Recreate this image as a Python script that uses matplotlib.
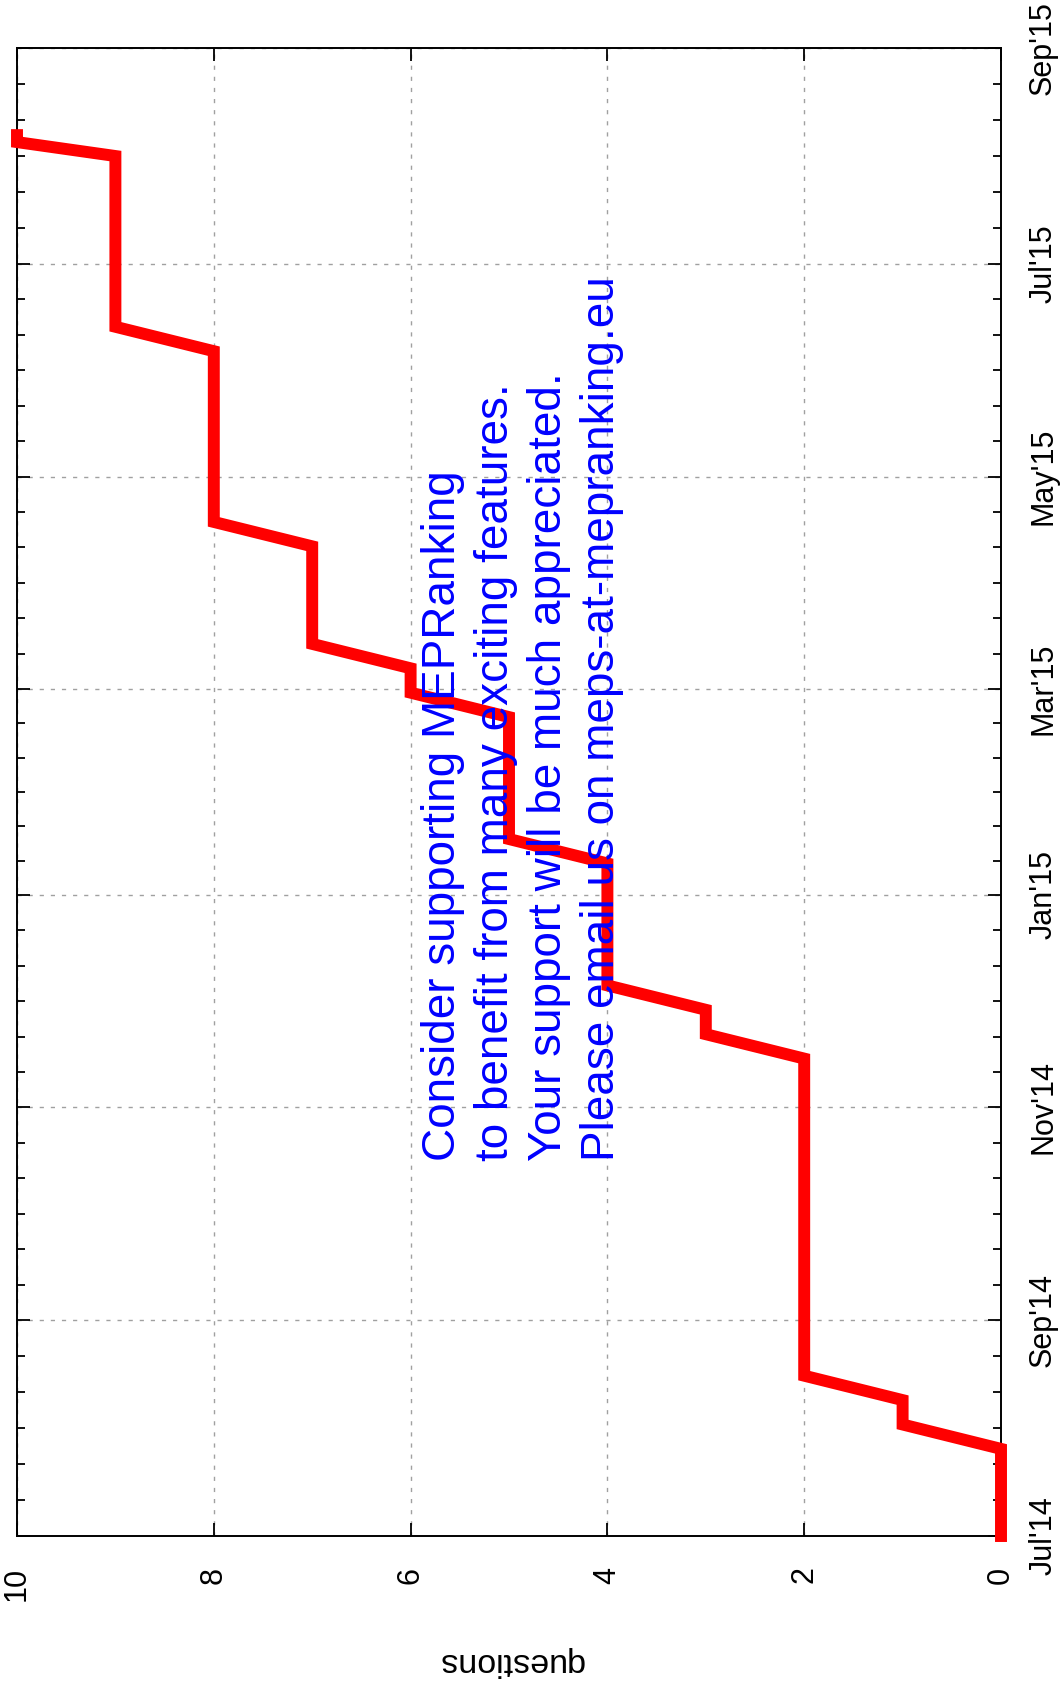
import matplotlib
matplotlib.use('Agg')
import matplotlib.pyplot as plt
import matplotlib.dates as mdates
from datetime import datetime

# cumulative number of questions, one point per data row
dias = ['2014-07-01', '2014-07-26', '2014-08-02', '2014-08-09', '2014-08-16',
        '2014-11-15', '2014-11-22', '2014-11-29', '2014-12-06', '2015-01-10',
        '2015-01-17', '2015-02-21', '2015-02-28', '2015-03-07', '2015-03-14',
        '2015-04-11', '2015-04-18', '2015-06-06', '2015-06-13', '2015-08-01',
        '2015-08-05', '2015-08-07']
perguntas = [0, 0, 1, 1, 2, 2, 3, 3, 4, 4, 5, 5, 6, 6, 7, 7, 8, 8, 9, 9, 10, 10]

meses = ['2014-07-01', '2014-09-01', '2014-11-01', '2015-01-01',
         '2015-03-01', '2015-05-01', '2015-07-01', '2015-09-01']
rotulos_meses = ["Jul'14", "Sep'14", "Nov'14", "Jan'15",
                 "Mar'15", "May'15", "Jul'15", "Sep'15"]
ticks_perguntas = [0, 2, 4, 6, 8, 10]

mensagem = ['Consider supporting MEPRanking',
            'to benefit from many exciting features.',
            'Your support will be much appreciated.',
            'Please email us on meps-at-mepranking.eu']

plt.rcParams['font.family'] = ['Liberation Sans', 'DejaVu Sans']

W, H = 1060, 1682


def para_data(s):
    return mdates.date2num(datetime.strptime(s, '%Y-%m-%d'))


def desenhar():
    fig = plt.figure(figsize=(W / 100, H / 100), dpi=100)
    ax = fig.add_axes([17 / W, 1 - 1536 / H, (1001 - 17) / W, (1536 - 48) / H])

    y = [para_data(d) for d in dias]
    ax.plot(perguntas, y, color='#ff0000', lw=8.6, solid_capstyle='projecting',
            solid_joinstyle='miter', clip_on=False, zorder=3)

    ax.set_xlim(10, 0)
    maj = [para_data(m) for m in meses]
    ax.set_ylim(maj[0], maj[-1])

    # minor ticks: 6 subdivisions between each pair of months
    menores = []
    for a, b in zip(maj[:-1], maj[1:]):
        for k in range(1, 6):
            menores.append(a + (b - a) * k / 6)

    ax.set_yticks(maj)
    ax.set_yticklabels(rotulos_meses, rotation=90, va='center', fontsize=22)
    ax.set_yticks(menores, minor=True)
    ax.set_xticks(ticks_perguntas)
    ax.set_xticklabels([str(t) for t in ticks_perguntas], rotation=90, fontsize=22)

    ax.tick_params(axis='both', which='major', direction='in', length=9.4, width=1.3,
                   top=True, bottom=True, left=True, right=True,
                   labelleft=False, labelright=True)
    ax.tick_params(axis='y', which='major', pad=19.5)
    ax.tick_params(axis='x', which='major', pad=22)
    ax.tick_params(axis='y', which='minor', direction='in', length=5.8, width=1.3,
                   left=True, right=True)
    for sp in ax.spines.values():
        sp.set_linewidth(1.4)

    ax.grid(True, which='major', color='#a0a0a0', lw=1.0, linestyle=(0, (3, 5)))

    fig.text(511 / W, 1 - 1662 / H, 'questions', rotation=180, ha='center',
             va='center', fontsize=24.5)

    for i, linha in enumerate(mensagem):
        fig.text((455 + 53 * i) / W, 1 - 1161 / H, linha, color='#0000ff',
                 fontsize=33, rotation=90, rotation_mode='anchor',
                 ha='left', va='baseline', zorder=4)

    fig.savefig('out.png', dpi=100)


if __name__ == "__main__":
    desenhar()
